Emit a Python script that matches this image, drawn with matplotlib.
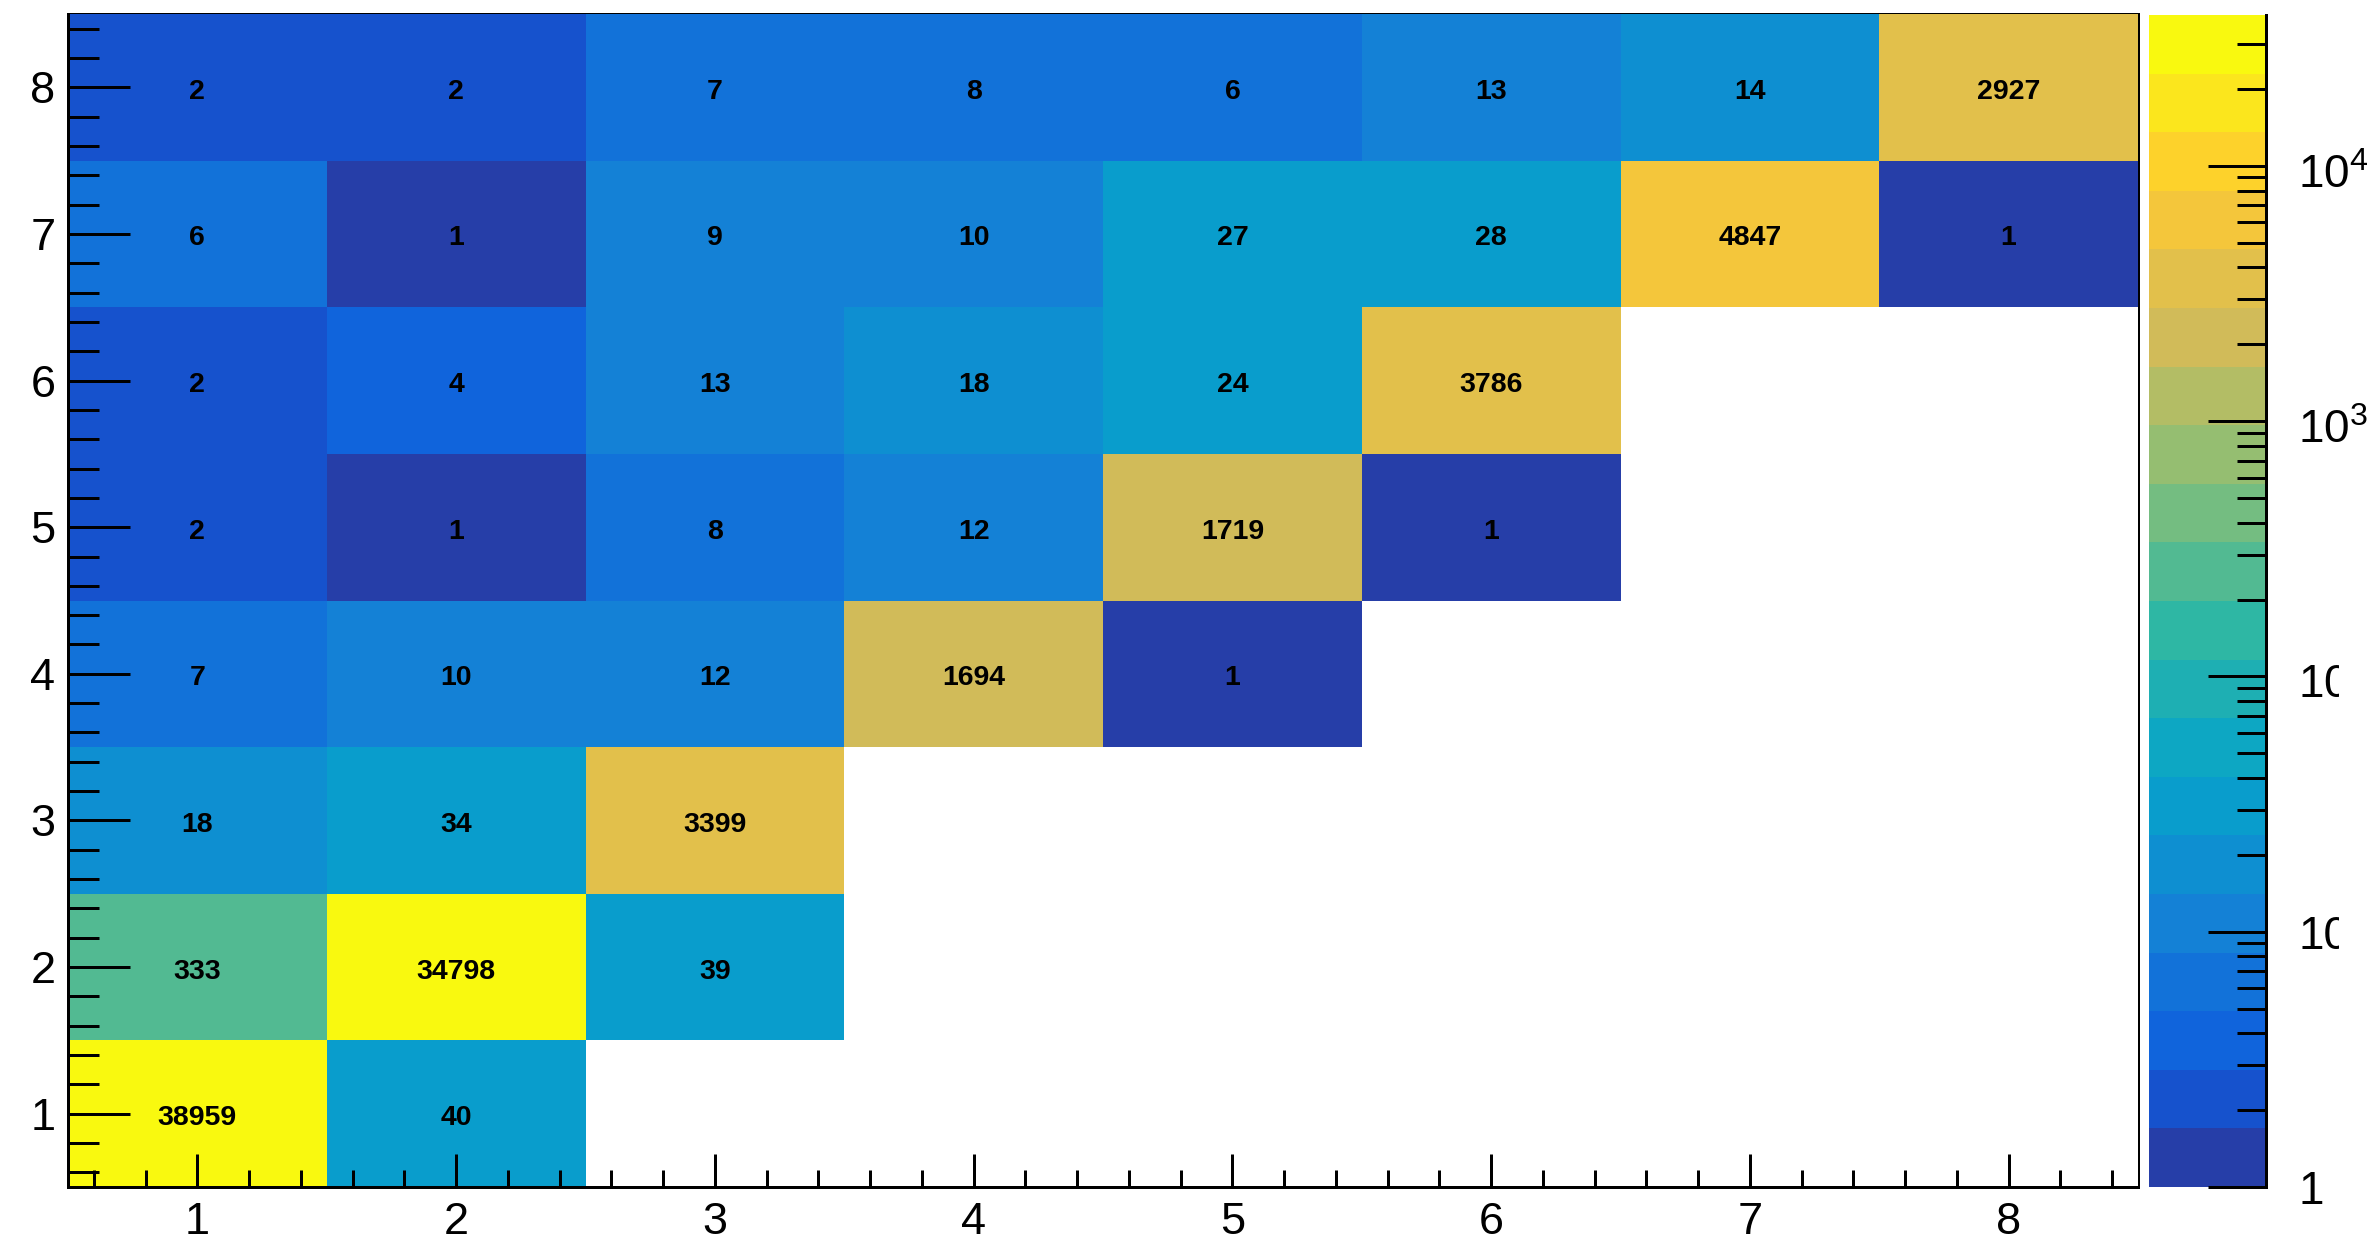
import numpy as np
import matplotlib
matplotlib.use("Agg")
import matplotlib.pyplot as plt
from matplotlib.colors import ListedColormap, BoundaryNorm
from matplotlib.ticker import FixedLocator, NullFormatter, MultipleLocator
from matplotlib.transforms import Bbox, TransformedBbox, offset_copy

plt.rcParams['font.family'] = ['Liberation Sans', 'DejaVu Sans']
plt.rcParams['mathtext.fontset'] = 'custom'
plt.rcParams['mathtext.rm'] = 'Liberation Sans'

# bin centres and contents (rows: y = 1..8, columns: x = 1..8), NaN = empty bin
x_bins = [1, 2, 3, 4, 5, 6, 7, 8]
y_bins = [1, 2, 3, 4, 5, 6, 7, 8]
row_y1 = [38959, 40, np.nan, np.nan, np.nan, np.nan, np.nan, np.nan]
row_y2 = [333, 34798, 39, np.nan, np.nan, np.nan, np.nan, np.nan]
row_y3 = [18, 34, 3399, np.nan, np.nan, np.nan, np.nan, np.nan]
row_y4 = [7, 10, 12, 1694, 1, np.nan, np.nan, np.nan]
row_y5 = [2, 1, 8, 12, 1719, 1, np.nan, np.nan]
row_y6 = [2, 4, 13, 18, 24, 3786, np.nan, np.nan]
row_y7 = [6, 1, 9, 10, 27, 28, 4847, 1]
row_y8 = [2, 2, 7, 8, 6, 13, 14, 2927]

counts = np.array([row_y1, row_y2, row_y3, row_y4,
                   row_y5, row_y6, row_y7, row_y8], dtype=float)

# kBird palette, built the same way as a 255-colour gradient table
STOPS = [0.0000, 0.1250, 0.2500, 0.3750, 0.5000, 0.6250, 0.7500, 0.8750, 1.0000]
RED = [0.2082, 0.0592, 0.0780, 0.0232, 0.1802, 0.5301, 0.8186, 0.9956, 0.9764]
GREEN = [0.1664, 0.3599, 0.5041, 0.6419, 0.7178, 0.7492, 0.7328, 0.7862, 0.9832]
BLUE = [0.5293, 0.8684, 0.8385, 0.7914, 0.6425, 0.4662, 0.3499, 0.1968, 0.0539]
N_PAL = 255
N_LEVELS = 20


def bird_table(n=N_PAL):
    out = []
    for g in range(1, len(STOPS)):
        k = int(np.floor(n * STOPS[g]) - np.floor(n * STOPS[g - 1]))
        for c in range(k):
            t = c / k
            out.append((RED[g - 1] + t * (RED[g] - RED[g - 1]),
                        GREEN[g - 1] + t * (GREEN[g] - GREEN[g - 1]),
                        BLUE[g - 1] + t * (BLUE[g] - BLUE[g - 1])))
    return out


pal = bird_table()
level_colors = [pal[int((i + 0.99) * N_PAL / N_LEVELS)] for i in range(N_LEVELS)]
cmap = ListedColormap(level_colors)
cmap.set_over(level_colors[-1])
cmap.set_bad('white')

zmin = 1.0
zmax = np.nanmax(counts)
dz = np.log10(zmax) - np.log10(zmin)
# level k covers log10(z) in [(k - 0.01), (k + 1 - 0.01)) * dz / N
bounds = zmin * 10 ** ((np.arange(N_LEVELS + 1) - 0.01) * dz / N_LEVELS)
norm = BoundaryNorm(bounds, N_LEVELS)

W, H = 2367, 1245
fig = plt.figure(figsize=(W / 100, H / 100), dpi=100, facecolor='white')
ax = fig.add_axes([68 / W, (H - 1187) / H, (2138 - 68) / W, (1187 - 14) / H])
cax = fig.add_axes([2149 / W, (H - 1187) / H, (2266 - 2149) / W, (1187 - 15) / H])

PX = 0.72  # points per pixel at 100 dpi
xe = np.arange(0.5, 9.0, 1.0)
ye = np.arange(0.5, 9.0, 1.0)
ax.pcolormesh(xe, ye, np.ma.masked_invalid(counts), cmap=cmap, norm=norm,
              antialiased=False, linewidth=0, zorder=1)

txt_tr = offset_copy(ax.transData, fig=fig, x=0, y=-1.5 * PX, units='points')
for j, yv in enumerate(y_bins):
    for i, xv in enumerate(x_bins):
        v = counts[j, i]
        if np.isnan(v):
            continue
        ax.text(xv, yv, f'{int(v)}', ha='center', va='center_baseline',
                fontsize=20.5, fontweight='bold', color='black', zorder=3,
                transform=txt_tr)

ax.set_xlim(0.5, 8.5)
ax.set_ylim(0.5, 8.5)
ax.xaxis.set_major_locator(MultipleLocator(1))
ax.yaxis.set_major_locator(MultipleLocator(1))
ax.xaxis.set_minor_locator(MultipleLocator(0.2))
ax.yaxis.set_minor_locator(MultipleLocator(0.2))
ax.tick_params(axis='both', which='both', direction='in', width=3 * PX,
               color='black', top=False, right=False)
ax.tick_params(axis='x', which='major', length=33 * PX, pad=11, labelsize=32.5)
ax.tick_params(axis='x', which='minor', length=17 * PX)
ax.tick_params(axis='y', which='major', length=62 * PX, pad=9, labelsize=32.5)
ax.tick_params(axis='y', which='minor', length=31 * PX)
for lab in ax.get_yticklabels():
    lab.set_verticalalignment('center_baseline')
for side in ('left', 'bottom'):
    ax.spines[side].set_linewidth(3 * PX)
    ax.spines[side].set_zorder(4)
for side in ('top', 'right'):
    ax.spines[side].set_linewidth(3 * PX)
    ax.spines[side].set_zorder(0.5)

# palette axis
cax.set_yscale('log')
band_edges = zmin * 10 ** (np.linspace(0, dz, N_LEVELS + 1))
band_vals = np.sqrt(band_edges[:-1] * band_edges[1:])[:, None]
cax.pcolormesh([0, 1], band_edges, band_vals, cmap=cmap, norm=norm,
               antialiased=False, linewidth=0)
cax.set_xlim(0, 1)
cax.set_ylim(zmin, zmax)
cax.set_xticks([])
for side in ('left', 'top', 'bottom'):
    cax.spines[side].set_visible(False)
cax.spines['right'].set_linewidth(3 * PX)
cax.yaxis.set_ticks_position('right')
major_z = [1, 10, 100, 1000, 10000]
minor_z = [m * d for d in (1, 10, 100, 1000, 10000) for m in range(2, 10)
           if m * d <= zmax]
cax.yaxis.set_major_locator(FixedLocator(major_z))
cax.yaxis.set_minor_locator(FixedLocator(minor_z))
cax.yaxis.set_major_formatter(NullFormatter())
cax.yaxis.set_minor_formatter(NullFormatter())
cax.tick_params(axis='y', which='both', direction='in', width=3 * PX,
                color='black')
cax.tick_params(axis='y', which='major', length=58 * PX)
cax.tick_params(axis='y', which='minor', length=29 * PX)

cb_labels = ['1', '10', r'$\mathregular{10^{2}}$', r'$\mathregular{10^{3}}$',
             r'$\mathregular{10^{4}}$']
cb_drop = [16.5, 17, 22, 22, 22]  # baseline sits this many px under the tick
clip = TransformedBbox(Bbox.from_extents(0, 0, 2339 / W, 1), fig.transFigure)
lx = (2298 - 2149) / (2266 - 2149)
for z, lab, drop in zip(major_z, cb_labels, cb_drop):
    tr = offset_copy(cax.get_yaxis_transform(), fig=fig, x=0, y=-drop * PX,
                     units='points')
    t = cax.text(lx, z, lab, transform=tr, ha='left', va='baseline',
                 fontsize=33, color='black', clip_on=False)
    if z in (10, 100):
        t.set_clip_box(clip)
        t.set_clip_on(True)

fig.savefig('out.png', dpi=100, facecolor='white')
